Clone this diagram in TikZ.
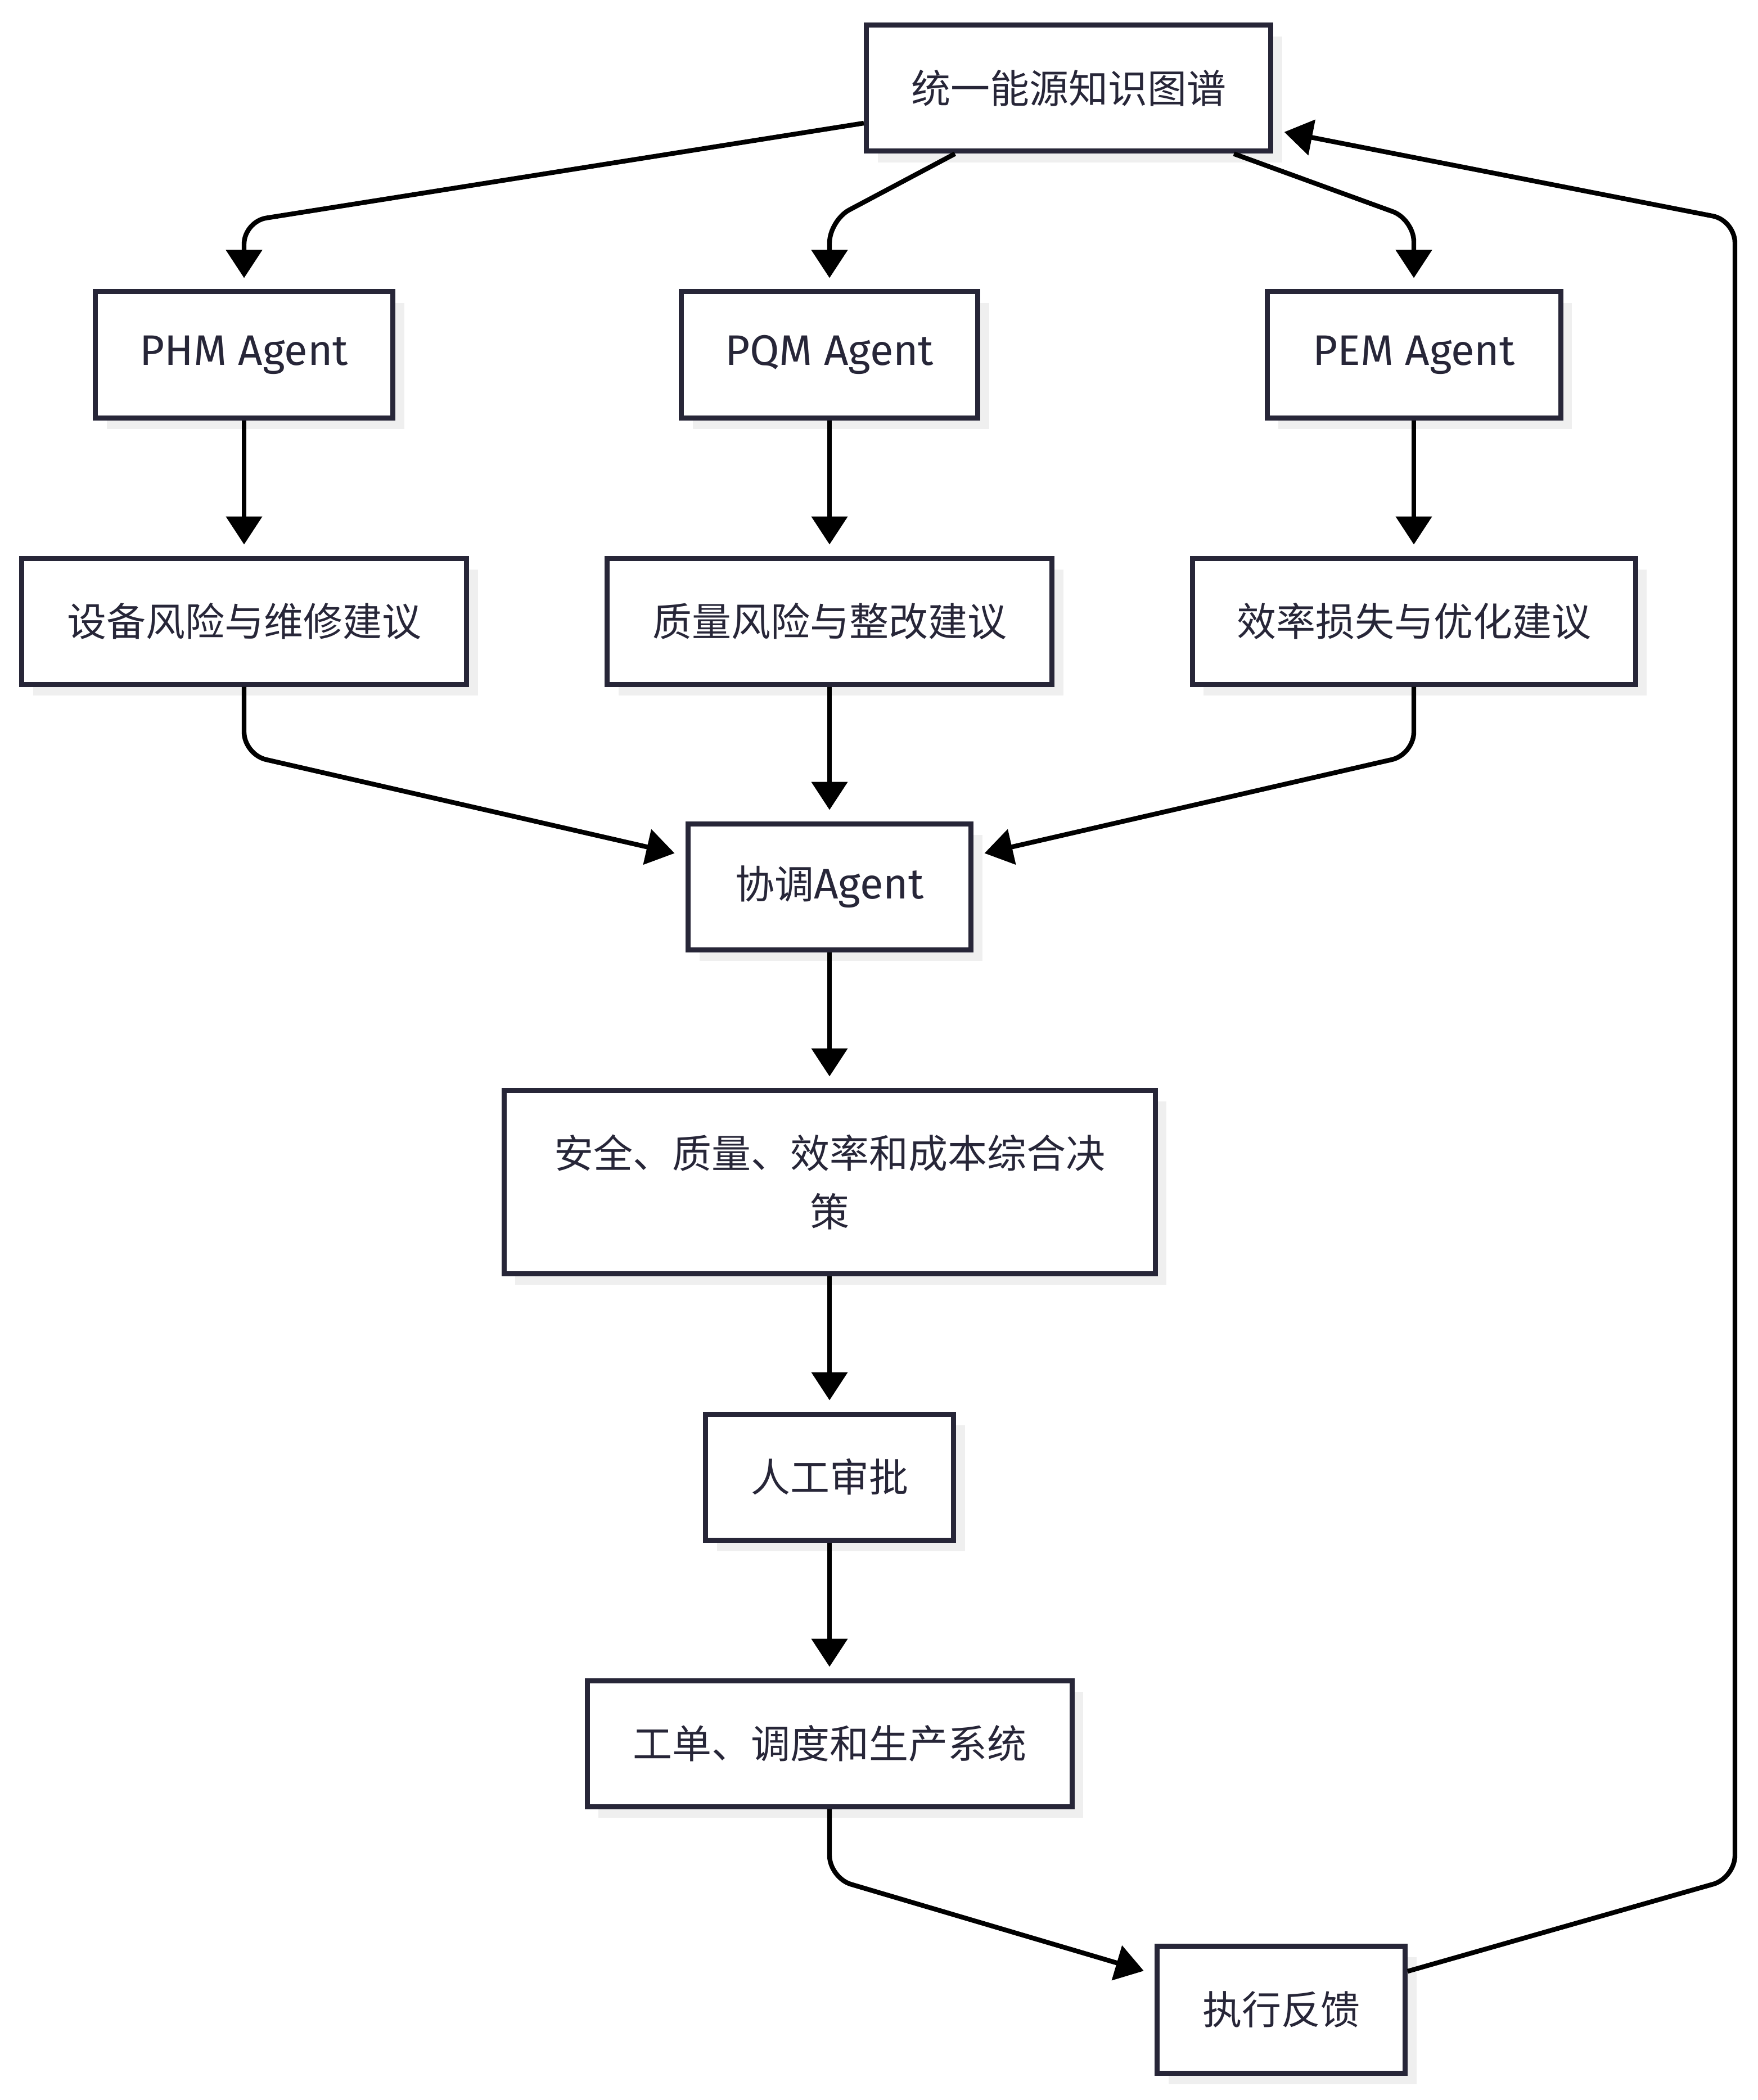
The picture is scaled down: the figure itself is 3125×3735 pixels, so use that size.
\documentclass[tikz,border=0pt]{standalone}
\usepackage{fontspec}
\setmainfont{Fira Sans}
\newfontfamily\cjk{Noto Sans CJK SC}
\newcommand\latsz{\fontsize{19}{26}\selectfont}
\usetikzlibrary{arrows.meta,shadows,calc}
\definecolor{bordc}{HTML}{272638}
\definecolor{shadc}{HTML}{EFEFEF}
\begin{document}
\begin{tikzpicture}[x=0.25pt,y=-0.25pt,
  box/.style={draw=bordc, line width=2.25pt, fill=white, text=bordc,
    font=\fontsize{17.5}{26}\selectfont, minimum height=56pt, inner sep=0pt,
    align=center, general shadow={fill=shadc, shadow xshift=5pt, shadow yshift=-5pt}},
  arr/.style={draw=black, line width=2.1pt, rounded corners=10pt, shorten >=5pt,
    -{Triangle[length=12.5pt,width=15.75pt]}}]
\useasboundingbox (0,0) rectangle (3125,3735);
\node[box, minimum width=179.75pt] (kg) at (1900,157) {\cjk 统一能源知识图谱};
\node[box, minimum width=132.25pt] (phm) at (434,631) {\latsz PHM Agent};
\node[box, minimum width=131.75pt] (pqm) at (1475,631) {\latsz PQM Agent};
\node[box, minimum width=130.5pt] (pem) at (2514,631) {\latsz PEM Agent};
\node[box, minimum width=197.75pt] (r1) at (434,1105) {\cjk 设备风险与维修建议};
\node[box, minimum width=197.75pt] (r2) at (1475,1105) {\cjk 质量风险与整改建议};
\node[box, minimum width=197pt] (r3) at (2514,1105) {\cjk 效率损失与优化建议};
\node[box, minimum width=125.75pt] (coord) at (1475,1577) {{\cjk 协调}{\latsz Agent}};
\node[box, minimum width=289.5pt, minimum height=81.5pt] (dec) at (1475,2102) {\cjk 安全、质量、效率和成本综合决\\\cjk 策};
\node[box, minimum width=110.25pt] (appr) at (1475,2627) {\cjk 人工审批};
\node[box, minimum width=215.5pt] (sys) at (1475,3101) {\cjk 工单、调度和生产系统};
\node[box, minimum width=110.25pt, minimum height=56.5pt] (fb) at (2278,3574) {\cjk 执行反馈};

\draw[arr] (kg.west |- 0,219) -- (phm.north |- 0,394) -- (phm.north);
\draw[arr] (kg.south -| 1698,0) -- (pqm.north |- 0,392) -- (pqm.north);
\draw[arr] (kg.south -| 2194,0) -- (pem.north |- 0,390) -- (pem.north);
\draw[arr] (phm.south) -- (r1.north);
\draw[arr] (pqm.south) -- (r2.north);
\draw[arr] (pem.south) -- (r3.north);
\draw[arr] (r1.south) -- (r1.south |- 0,1342) -- ($(coord.west)+(0,-55)$);
\draw[arr] (r2.south) -- (coord.north);
\draw[arr] (r3.south) -- (r3.south |- 0,1342) -- ($(coord.east)+(0,-55)$);
\draw[arr] (coord.south) -- (dec.north);
\draw[arr] (dec.south) -- (appr.north);
\draw[arr] (appr.south) -- (sys.north);
\draw[arr] (sys.south) -- (sys.south |- 0,3340) -- ($(fb.west)+(0,-63)$);
\coordinate (fbc1) at (3085,3340);
\coordinate (fbc2) at (3085,392);
\draw[arr] ($(fb.east)+(0,-68)$) -- (fbc1) -- (fbc2) -- ($(kg.east)+(0,74)$);
\end{tikzpicture}
\end{document}
